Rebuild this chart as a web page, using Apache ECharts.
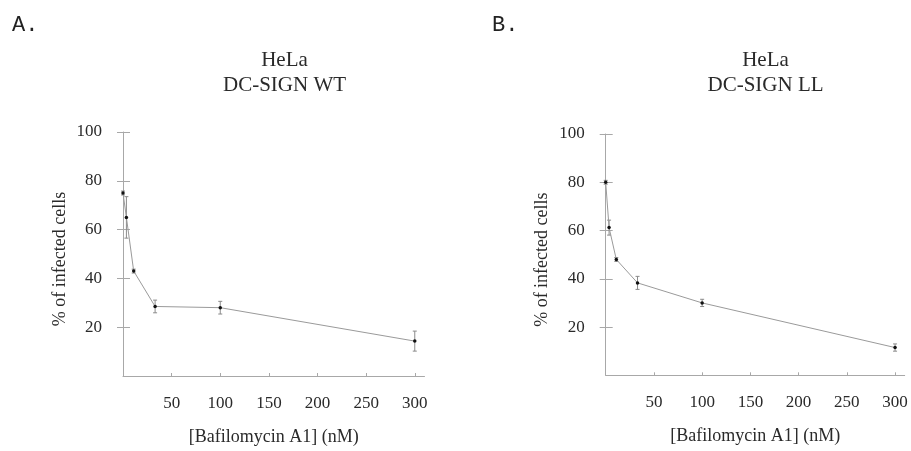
<!DOCTYPE html>
<html>
<head>
<meta charset="utf-8">
<script src="https://cdn.jsdelivr.net/npm/echarts@6/dist/echarts.min.js"></script>
<style>html,body{margin:0;padding:0;background:#fff}#c{width:911px;height:451px}</style>
</head>
<body>
<div id="c"></div>
<script>
// Data
const concentrations = [0, 3.5, 11, 33, 100, 300];
const wtValues = [75, 65, 43, 28.5, 28, 14.3];
const wtErrors = [0.8, 8.5, 0.8, 2.6, 2.6, 4.1];
const llValues = [80, 61.2, 48, 38.3, 30, 11.5];
const llErrors = [0.8, 3.1, 0.8, 2.7, 1.5, 1.5];
const xTicks = [50, 100, 150, 200, 250, 300];
const yTicks = [20, 40, 60, 80, 100];
const panelLetters = ['A.', 'B.'];
const panelTitles = ['HeLa\nDC-SIGN WT', 'HeLa\nDC-SIGN LL'];
const xName = '[Bafilomycin A1] (nM)';
const yName = '% of infected cells';

const serif = '"Liberation Serif", "Times New Roman", serif';
const textColor = '#2a2a2a';
const axisColor = '#a8a8a8';

const chart = echarts.init(document.getElementById('c'));

const grids = [
  {left: 123, top: 132, width: 301.5, height: 244},
  {left: 605.7, top: 134, width: 299, height: 241.3}
];

function xAxisFor(i) {
  return {
    type: 'value', gridIndex: i, min: 0, max: 310,
    axisLine: {lineStyle: {color: axisColor, width: 1}},
    axisTick: {inside: true, length: 3, customValues: xTicks, lineStyle: {color: axisColor}},
    axisLabel: {customValues: xTicks, color: textColor, fontFamily: serif, fontSize: 17, margin: 19},
    splitLine: {show: false},
    name: xName, nameLocation: 'middle', nameGap: 52,
    nameTextStyle: {color: textColor, fontFamily: serif, fontSize: 18}
  };
}
function yAxisFor(i, main) {
  return {
    type: 'value', gridIndex: i, min: 0, max: 100, position: 'left',
    axisLine: {show: main, lineStyle: {color: axisColor, width: 1}},
    axisTick: {show: true, inside: !main, length: main ? 6 : 7, customValues: yTicks, lineStyle: {color: axisColor}},
    axisLabel: {show: main, customValues: yTicks, color: textColor, fontFamily: serif, fontSize: 17, margin: 21},
    splitLine: {show: false},
    name: main ? yName : '', nameLocation: 'middle', nameGap: 54,
    nameTextStyle: {color: textColor, fontFamily: serif, fontSize: 18, padding: [0, 10, 0, 0]}
  };
}

function lineSeries(i, vals) {
  return {
    type: 'line', xAxisIndex: i, yAxisIndex: i * 2,
    data: concentrations.map((c, k) => [c, vals[k]]),
    lineStyle: {color: '#9a9a9a', width: 1},
    symbol: 'circle', symbolSize: 3.5,
    itemStyle: {color: '#111'},
    z: 3, silent: true, animation: false
  };
}
function errSeries(i, vals, errs) {
  return {
    type: 'custom', xAxisIndex: i, yAxisIndex: i * 2,
    data: concentrations.map((c, k) => [c, vals[k] - errs[k], vals[k] + errs[k]]),
    renderItem: function (params, api) {
      const lo = api.coord([api.value(0), api.value(1)]);
      const hi = api.coord([api.value(0), api.value(2)]);
      const w = 2;
      const st = {stroke: '#8a8a8a', lineWidth: 1};
      return {type: 'group', children: [
        {type: 'line', shape: {x1: lo[0], y1: lo[1], x2: hi[0], y2: hi[1]}, style: st},
        {type: 'line', shape: {x1: lo[0] - w, y1: lo[1], x2: lo[0] + w, y2: lo[1]}, style: st},
        {type: 'line', shape: {x1: hi[0] - w, y1: hi[1], x2: hi[0] + w, y2: hi[1]}, style: st}
      ]};
    },
    z: 2, silent: true, animation: false
  };
}

const titleCenters = [279.5, 760.5];
const letterLefts = [12, 492];

chart.setOption({
  animation: false,
  backgroundColor: '#fff',
  title: titleCenters.map((cx, i) => ({
    text: panelTitles[i], left: cx, top: 43, textAlign: 'center',
    textStyle: {fontFamily: serif, fontSize: 21, fontWeight: 'normal', color: textColor, lineHeight: 25}
  })),
  graphic: letterLefts.map((lx, i) => ({
    type: 'text', left: lx, top: 14,
    style: {text: panelLetters[i], font: '22px "Liberation Mono", "Courier New", monospace', fill: '#222'}
  })),
  grid: grids,
  xAxis: [xAxisFor(0), xAxisFor(1)],
  yAxis: [yAxisFor(0, true), yAxisFor(0, false), yAxisFor(1, true), yAxisFor(1, false)],
  series: [
    errSeries(0, wtValues, wtErrors), lineSeries(0, wtValues),
    errSeries(1, llValues, llErrors), lineSeries(1, llValues)
  ]
});
</script>
</body>
</html>
